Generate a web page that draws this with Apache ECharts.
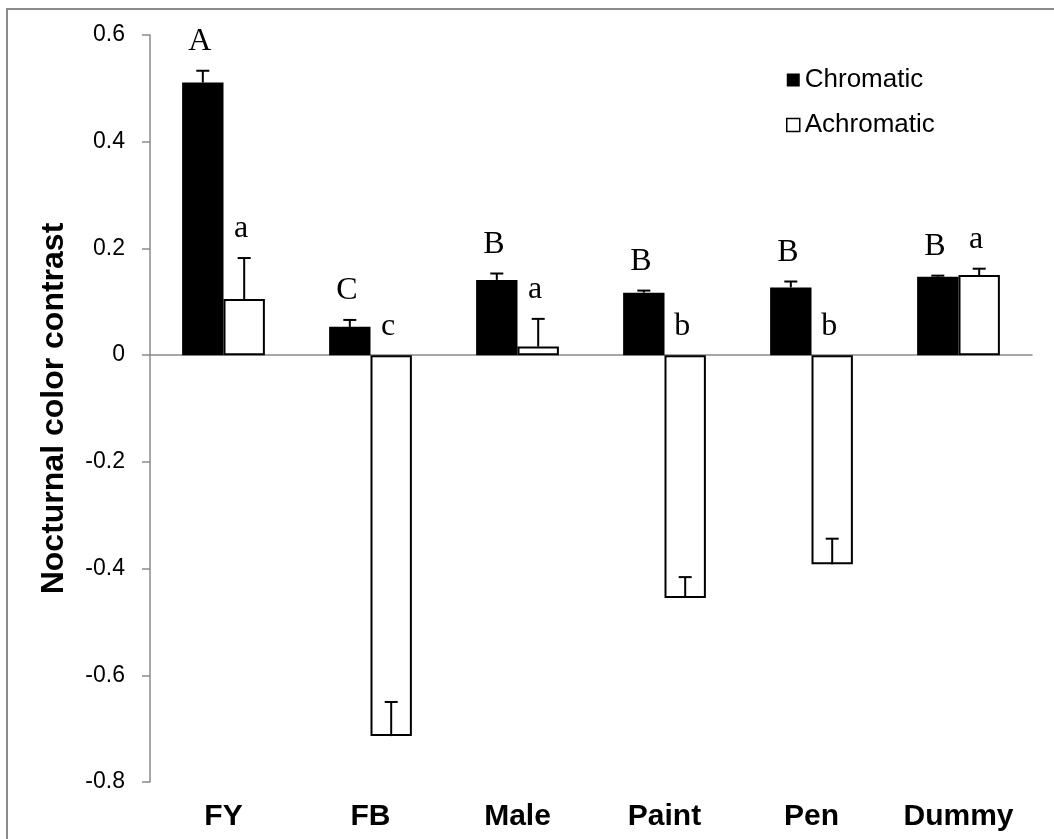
<!DOCTYPE html>
<html>
<head>
<meta charset="utf-8">
<script src="https://cdn.jsdelivr.net/npm/echarts@6/dist/echarts.min.js"></script>
<style>
html,body{margin:0;padding:0;background:#fff;}
#chart{width:1054px;height:839px;}
</style>
</head>
<body>
<div id="chart"></div>
<script>
// ---- data ----
const categories = ['FY', 'FB', 'Male', 'Paint', 'Pen', 'Dummy'];
const chromatic = [0.511, 0.053, 0.141, 0.117, 0.127, 0.147];
const chromaticErr = [0.022, 0.013, 0.012, 0.004, 0.011, 0.002];
const achromatic = [0.105, -0.714, 0.016, -0.455, -0.392, 0.150];
const achromaticErr = [0.077, 0.064, 0.052, 0.039, 0.048, 0.012];
const chromaticLetters = ['A', 'C', 'B', 'B', 'B', 'B'];
const achromaticLetters = ['a', 'c', 'a', 'b', 'b', 'a'];
const yTicks = { min: -0.8, max: 0.6, interval: 0.2 };

const GAP = 0.437; // barCategoryGap fraction
const AXIS_GRAY = '#8a8a8a';

function errorSeries(values, errs, letters, side) {
  return {
    type: 'custom',
    xAxisIndex: 0,
    yAxisIndex: 0,
    z: 5,
    silent: true,
    data: values.map((v, i) => [i, v, errs[i]]),
    renderItem: function (params, api) {
      const i = api.value(0), v = api.value(1), e = api.value(2);
      const base = api.coord([i, v]);
      const top = api.coord([i, v + e]);
      const band = api.size([1, 0])[0];
      const barW = band * (1 - GAP) / 2;
      const x = base[0] + side * barW / 2;
      const cap = 6.5;
      const anchor = api.coord([i, Math.max(v + e, 0)])[1];
      return {
        type: 'group',
        children: [
          { type: 'line', shape: { x1: x, y1: base[1], x2: x, y2: top[1] },
            style: { stroke: '#000', lineWidth: 2 } },
          { type: 'line', shape: { x1: x - cap, y1: top[1], x2: x + cap, y2: top[1] },
            style: { stroke: '#000', lineWidth: 2 } },
          { type: 'text', x: x - 3, y: anchor - 29,
            style: { text: letters[params.dataIndex], fill: '#000',
              font: '32px "Liberation Serif", "Times New Roman", serif',
              align: 'center', verticalAlign: 'middle' } }
        ]
      };
    }
  };
}

const chart = echarts.init(document.getElementById('chart'), null, { renderer: 'canvas' });
chart.setOption({
  animation: false,
  backgroundColor: '#fff',
  graphic: [{
    type: 'rect', silent: true, z: 0,
    shape: { x: 7, y: 9, width: 1070, height: 860 },
    style: { fill: 'none', stroke: '#8c8c8c', lineWidth: 2 }
  }],
  grid: { left: 150, right: 22, top: 35, bottom: 57, containLabel: false },
  legend: {
    orient: 'vertical',
    left: 781,
    top: 62,
    itemWidth: 13,
    itemHeight: 13,
    itemGap: 19,
    icon: 'rect',
    textStyle: { fontSize: 26, lineHeight: 26, color: '#000', fontFamily: '"Liberation Sans", Arial, sans-serif' },
    data: [
      { name: 'Chromatic', itemStyle: { color: '#000', borderWidth: 0 } },
      { name: 'Achromatic', itemStyle: { color: '#fff', borderColor: '#000', borderWidth: 1.5 } }
    ]
  },
  xAxis: [
    {
      type: 'category',
      data: categories,
      position: 'bottom',
      axisLine: { show: false, onZero: false },
      axisTick: { show: false },
      axisLabel: {
        margin: 20, color: '#000', fontSize: 30, fontWeight: 'bold',
        fontFamily: '"Liberation Sans", Arial, sans-serif'
      }
    },
    {
      type: 'category',
      data: categories,
      position: 'bottom',
      axisLine: { show: true, onZero: true, lineStyle: { color: AXIS_GRAY, width: 1.5 } },
      axisTick: { show: false },
      axisLabel: { show: false }
    }
  ],
  yAxis: {
    type: 'value',
    min: yTicks.min,
    max: yTicks.max,
    interval: yTicks.interval,
    name: 'Nocturnal color contrast',
    nameLocation: 'middle',
    nameRotate: 90,
    nameGap: 80,
    nameTextStyle: {
      fontSize: 32, fontWeight: 'bold', color: '#000',
      fontFamily: '"Liberation Sans", Arial, sans-serif'
    },
    splitLine: { show: false },
    axisLine: { show: true, lineStyle: { color: AXIS_GRAY, width: 1.5 } },
    axisTick: { show: true, inside: false, length: 8, lineStyle: { color: AXIS_GRAY, width: 1.5 } },
    axisLabel: {
      margin: 25, color: '#000', fontSize: 23,
      fontFamily: '"Liberation Sans", Arial, sans-serif',
      formatter: function (v) { return Math.abs(v) < 1e-9 ? '0' : v.toFixed(1); }
    }
  },
  series: [
    {
      name: 'Chromatic',
      type: 'bar',
      xAxisIndex: 0,
      data: chromatic,
      barGap: '0%',
      barCategoryGap: (GAP * 100) + '%',
      itemStyle: { color: '#000' },
      z: 3
    },
    {
      name: 'Achromatic',
      type: 'bar',
      xAxisIndex: 0,
      data: achromatic,
      barGap: '0%',
      barCategoryGap: (GAP * 100) + '%',
      itemStyle: { color: '#fff', borderColor: '#000', borderWidth: 2 },
      z: 3
    },
    errorSeries(chromatic, chromaticErr, chromaticLetters, -1),
    errorSeries(achromatic, achromaticErr, achromaticLetters, 1)
  ]
});
</script>
</body>
</html>
